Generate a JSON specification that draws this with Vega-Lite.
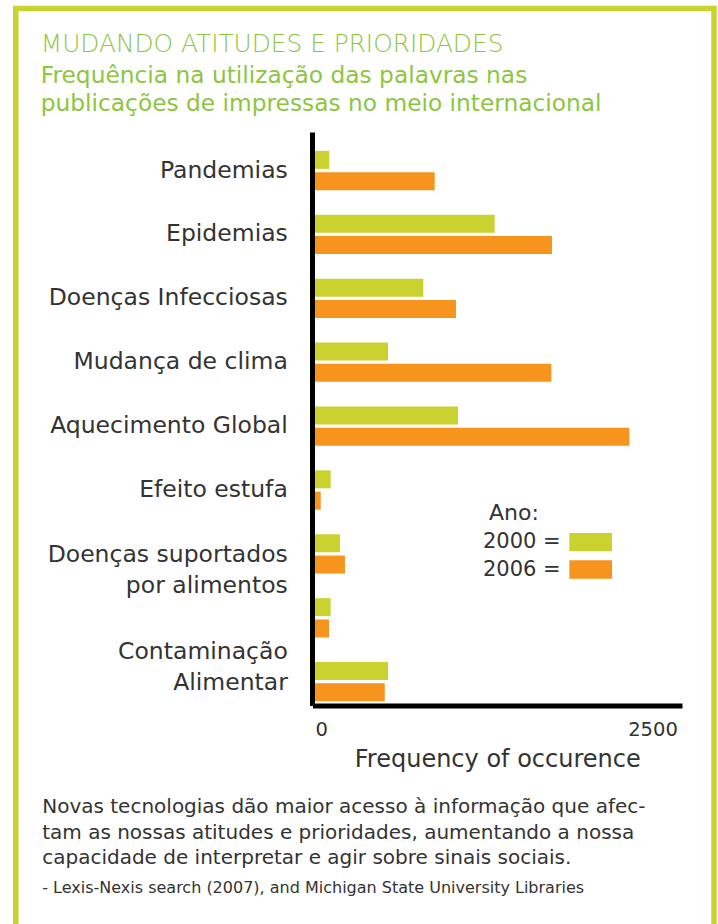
{
  "$schema": "https://vega.github.io/schema/vega-lite/v6.json",
  "width": 698.25,
  "height": 940,
  "autosize": {"type": "none"},
  "padding": {"left": 15.75, "top": 8.5, "right": 4, "bottom": 0},
  "background": "white",
  "config": {
    "font": "DejaVu Sans",
    "view": {"stroke": "#c9d22f", "strokeWidth": 5.5}
  },
  "title": {
    "text": "MUDANDO ATITUDES E PRIORIDADES",
    "subtitle": ["Frequência na utilização das palavras nas", "publicações de impressas no meio internacional"],
    "anchor": "start",
    "frame": "group",
    "orient": "top",
    "offset": -107,
    "dx": 25,
    "font": "DejaVu Sans",
    "fontSize": 24.8,
    "fontWeight": 300,
    "color": "#8cc63f",
    "subtitleFont": "DejaVu Sans",
    "subtitleFontSize": 23.3,
    "subtitleFontWeight": "normal",
    "subtitleColor": "#8cc63f",
    "subtitlePadding": 8.4,
    "subtitleLineHeight": 28
  },
  "data": {
    "values": [
      {"termo": "Pandemias", "ano": "2000", "freq": 105},
      {"termo": "Pandemias", "ano": "2006", "freq": 879},
      {"termo": "Epidemias", "ano": "2000", "freq": 1319},
      {"termo": "Epidemias", "ano": "2006", "freq": 1740},
      {"termo": "Doenças Infecciosas", "ano": "2000", "freq": 795},
      {"termo": "Doenças Infecciosas", "ano": "2006", "freq": 1035},
      {"termo": "Mudança de clima", "ano": "2000", "freq": 536},
      {"termo": "Mudança de clima", "ano": "2006", "freq": 1735},
      {"termo": "Aquecimento Global", "ano": "2000", "freq": 1050},
      {"termo": "Aquecimento Global", "ano": "2006", "freq": 2308},
      {"termo": "Efeito estufa", "ano": "2000", "freq": 115},
      {"termo": "Efeito estufa", "ano": "2006", "freq": 42},
      {"termo": "Doenças suportados por alimentos", "ano": "2000", "freq": 184},
      {"termo": "Doenças suportados por alimentos", "ano": "2006", "freq": 220},
      {"termo": "", "ano": "2000", "freq": 115},
      {"termo": "", "ano": "2006", "freq": 103},
      {"termo": "Contaminação Alimentar", "ano": "2000", "freq": 536},
      {"termo": "Contaminação Alimentar", "ano": "2006", "freq": 512}
    ]
  },
  "layer": [
    {
      "mark": {"type": "bar"},
      "encoding": {
        "y": {
          "field": "termo",
          "type": "nominal",
          "sort": null,
          "scale": {"range": [123.5, 697], "paddingInner": 0.385, "paddingOuter": 0.18, "align": 0.82},
          "axis": {
            "title": [
              "Novas tecnologias dão maior acesso à informação que afec-",
              "tam as nossas atitudes e prioridades, aumentando a nossa",
              "capacidade de interpretar e agir sobre sinais sociais."
            ],
            "titleAngle": 0,
            "titleAlign": "left",
            "titleBaseline": "alphabetic",
            "titleX": -270.3,
            "titleY": 804,
            "titleFontSize": 20,
            "titleFontWeight": "normal",
            "titleColor": "#333333",
            "titleLineHeight": 25.5,
            "offset": -296.25,
            "domainColor": "#000000",
            "domainWidth": 5,
            "domainCap": "butt",
            "ticks": false,
            "tickSize": 0,
            "grid": false,
            "labelPadding": 24.7,
            "labelFontSize": 23.5,
            "labelColor": "#333333",
            "labelLimit": 400,
            "labelLineHeight": 31,
            "labelExpr": "datum.value === 'Doenças suportados por alimentos' ? ['Doenças suportados', 'por alimentos'] : datum.value === 'Contaminação Alimentar' ? ['Contaminação', 'Alimentar'] : datum.label",
            "labelOffset": {
              "condition": [
                {"test": "datum.value === 'Doenças suportados por alimentos'", "value": 1},
                {"test": "datum.value === 'Contaminação Alimentar'", "value": -30}
              ],
              "value": 0
            }
          }
        },
        "yOffset": {
          "field": "ano",
          "type": "nominal",
          "scale": {"paddingInner": 0.155, "paddingOuter": 0}
        },
        "x": {
          "field": "freq",
          "type": "quantitative",
          "scale": {"domain": [0, 2676], "range": [299.25, 663.75]},
          "axis": {
            "title": "Frequency of occurence",
            "values": [0, 2500],
            "format": "d",
            "offset": -243,
            "domainColor": "#000000",
            "domainWidth": 5,
            "domainCap": "square",
            "ticks": false,
            "tickSize": 0,
            "grid": false,
            "labelFontSize": 19.5,
            "labelColor": "#333333",
            "labelPadding": 15,
            "labelFlush": false,
            "labelAlign": {"condition": {"test": "datum.value === 0", "value": "left"}, "value": "center"},
            "labelOffset": {"condition": {"test": "datum.value === 2500", "value": -3}, "value": 0},
            "titleFontSize": 24,
            "titleFontWeight": "normal",
            "titleColor": "#333333",
            "titlePadding": 8
          }
        },
        "color": {
          "field": "ano",
          "type": "nominal",
          "scale": {"domain": ["2000", "2006"], "range": ["#c9d22f", "#f7941d"]},
          "legend": {
            "orient": "none",
            "legendX": 473.25,
            "legendY": 494,
            "padding": 0,
            "direction": "vertical",
            "title": "Ano:",
            "titleFontSize": 22,
            "titleFontWeight": "normal",
            "titleColor": "#333333",
            "titlePadding": 6.7,
            "labelFontSize": 21,
            "labelColor": "#333333",
            "labelExpr": "datum.label + ' ='",
            "labelAlign": "right",
            "labelOffset": -41,
            "labelLimit": 200,
            "symbolOffset": 90.7,
            "symbolType": "M-2,-0.8572H2V0.8572H-2Z",
            "symbolSize": 456,
            "symbolStrokeWidth": 0,
            "symbolOpacity": 1,
            "rowPadding": 6.3
          }
        }
      }
    },
    {
      "mark": {"type": "point", "opacity": 0},
      "encoding": {
        "y": {
          "field": "termo",
          "type": "nominal",
          "sort": null,
          "axis": {
            "orient": "right",
            "title": "- Lexis-Nexis search (2007), and Michigan State University Libraries",
            "titleAngle": 0,
            "titleAlign": "left",
            "titleBaseline": "alphabetic",
            "titleX": -672.3,
            "titleY": 884,
            "titleFontSize": 16,
            "titleFontWeight": "normal",
            "titleColor": "#333333",
            "labels": false,
            "domain": false,
            "ticks": false,
            "grid": false
          }
        }
      }
    }
  ],
  "resolve": {"axis": {"y": "independent"}}
}
